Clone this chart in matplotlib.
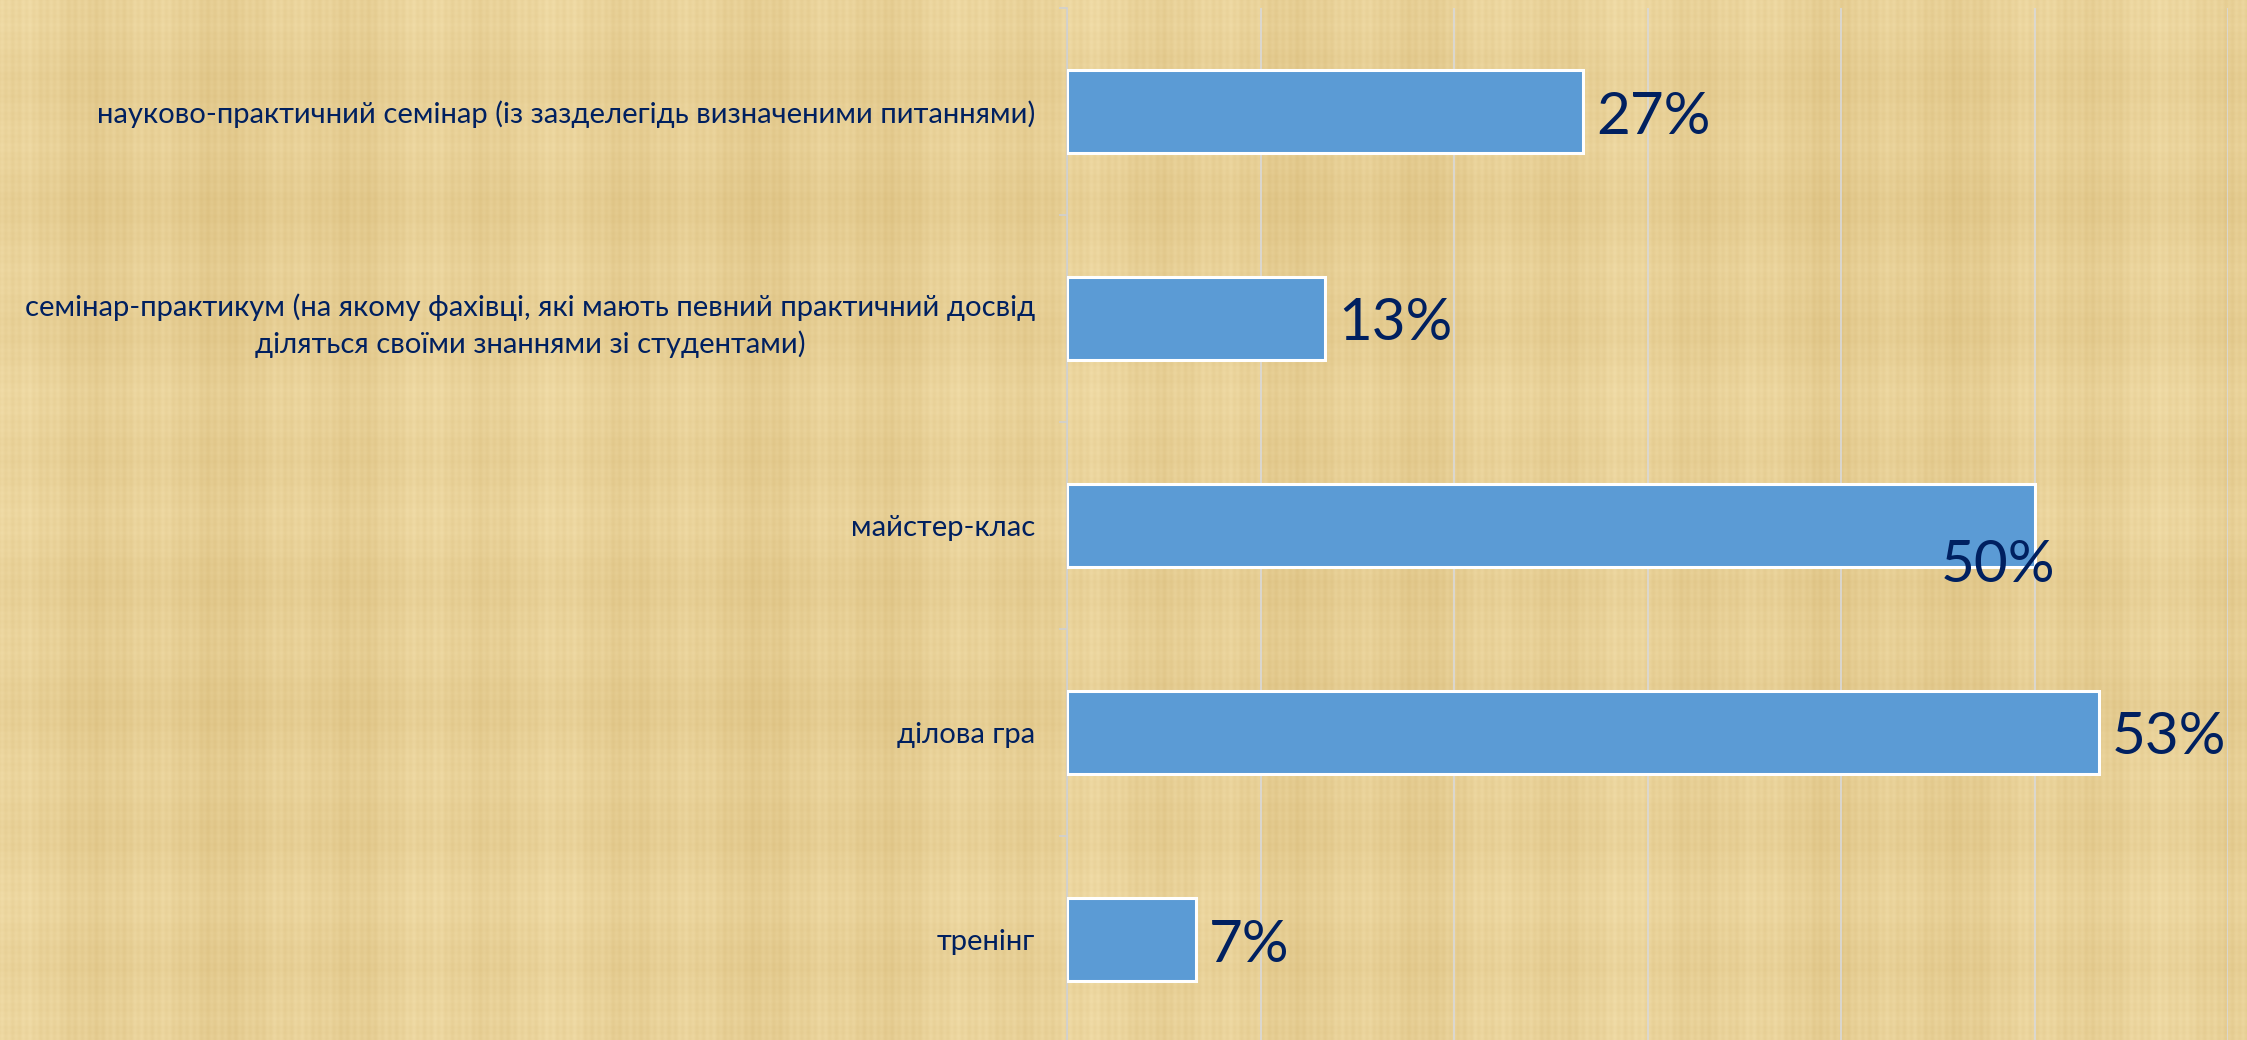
import numpy as np
import matplotlib
matplotlib.use("Agg")
import matplotlib.pyplot as plt

categories = [
    "науково-практичний семінар (із зазделегідь визначеними питаннями)",
    "семінар-практикум (на якому фахівці, які мають певний практичний досвід\nділяться своїми знаннями зі студентами)",
    "майстер-клас",
    "ділова гра",
    "тренінг",
]
shares = [0.2667, 0.1333, 0.50, 0.5333, 0.0667]
x_ticks = [0, 0.1, 0.2, 0.3, 0.4, 0.5, 0.6]

plt.rcParams['font.family'] = ['Lato', 'DejaVu Sans']
navy = '#002060'

W, H = 2247, 1040
fig = plt.figure(figsize=(W / 100, H / 100), dpi=100)

# papyrus-like background (deterministic stripes, no data)
bg = fig.add_axes([0, 0, 1, 1], zorder=-10)
xx = np.arange(W)[None, :]
yy = np.arange(H)[:, None]
streak = (0.35 * np.sin(xx * 0.9) + 0.25 * np.sin(xx * 0.23 + 1.3)
          + 0.45 * np.sin(xx * 0.047 + 0.5) + 0.3 * np.sin(xx * 0.0113 + 2.1))
band = (0.3 * np.sin(yy * 0.05 + 0.7) + 0.25 * np.sin(yy * 0.013 + 2.0)
        + 0.15 * np.sin(yy * 0.31) + 0.12 * np.sin(yy * 1.1))
tex = streak + band
tex = (tex - tex.min()) / (tex.max() - tex.min())
dark = np.array([220, 192, 128]) / 255
light = np.array([242, 222, 170]) / 255
img = dark[None, None, :] + tex[:, :, None] * (light - dark)[None, None, :]
bg.imshow(img, aspect='auto', extent=[0, 1, 0, 1], interpolation='bilinear')
bg.set_axis_off()

left = 1067 / W
right = 2228 / W
top = 1 - 8 / H
height = 1035 / H
ax = fig.add_axes([left, top - height, right - left, height])
ax.patch.set_visible(False)

y = np.arange(len(categories))
ax.barh(y, shares, height=0.4, color='#5B9BD5', edgecolor='white', linewidth=2.2, zorder=3)
ax.set_xlim(0, 0.6)
ax.set_ylim(len(categories) - 0.5, -0.5)

ax.set_xticks(x_ticks)
ax.xaxis.grid(True, color='#D9D9D9', linewidth=1.2)
ax.set_axisbelow(True)
ax.tick_params(axis='x', length=0, labelbottom=False)

for s in ['top', 'right', 'bottom']:
    ax.spines[s].set_visible(False)
ax.spines['left'].set_color('#D0D0D0')
ax.spines['left'].set_linewidth(1.2)

ax.set_yticks(y, categories, fontsize=21.1, color=navy, multialignment='center',
              linespacing=1.4)
ax.set_yticks(np.arange(len(categories) + 1) - 0.5, minor=True)
ax.tick_params(axis='y', which='major', length=0, pad=23)
ax.tick_params(axis='y', which='minor', length=6, color='#D0D0D0', width=1.2)

for i, v in enumerate(shares):
    label = f"{round(v * 100)}%"
    if i == 2:
        ax.annotate(label, (v, i), xytext=(21, -57), textcoords='offset pixels',
                    ha='right', va='baseline', fontsize=42, color=navy, zorder=5)
    else:
        ax.annotate(label, (v, i), xytext=(13, -22), textcoords='offset pixels',
                    ha='left', va='baseline', fontsize=42, color=navy, zorder=5)

fig.savefig("out.png", dpi=100)
